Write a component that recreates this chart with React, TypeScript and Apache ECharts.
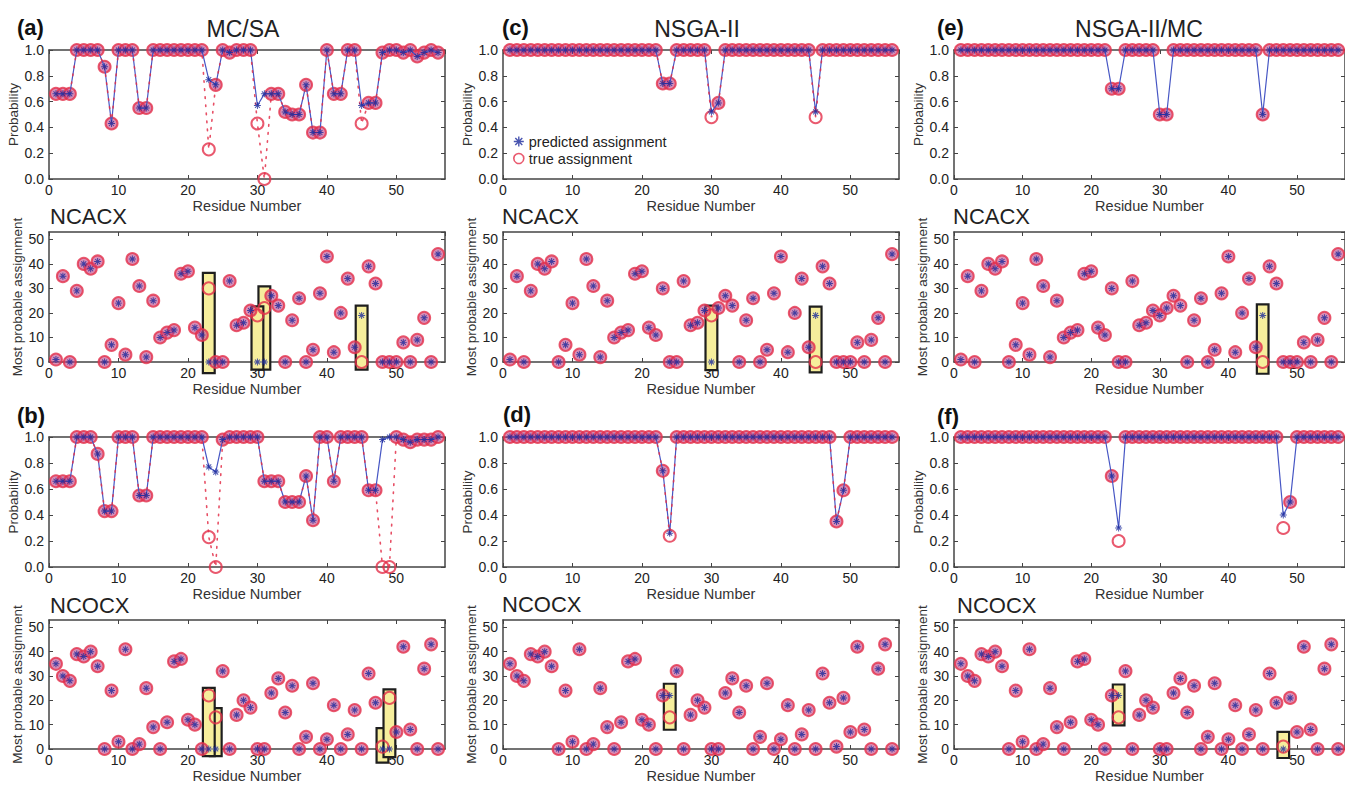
import React, { useEffect, useRef } from "react";
import * as echarts from "echarts";

const FONT = "'Liberation Sans', Arial, Helvetica, sans-serif";

// ---------------- data ----------------
const residues = [1,2,3,4,5,6,7,8,9,10,11,12,13,14,15,16,17,18,19,20,21,22,23,24,25,26,27,28,29,30,31,32,33,34,35,36,37,38,39,40,41,42,43,44,45,46,47,48,49,50,51,52,53,54,55,56];
const xTickStep = 10;
const probTickStep = 0.2;
const assignTickStep = 10;

const methodTitles = ["MC/SA", "NSGA-II", "NSGA-II/MC"];
const panelLetters = [["(a)", "(b)"], ["(c)", "(d)"], ["(e)", "(f)"]];
const spectrumNames = ["NCACX", "NCOCX"];
const legendNames = ["predicted assignment", "true assignment"];

// probability of assignment: MC/SA
const probMCSA_NCACX_pred = [0.66,0.66,0.66,1,1,1,1,0.87,0.43,1, 1,1,0.55,0.55,1,1,1,1,1,1, 1,1,0.77,0.73,1,0.98,1,1,1,0.57, 0.66,0.66,0.66,0.52,0.5,0.5,0.73,0.36,0.36,1, 0.66,0.66,1,1,0.57,0.59,0.59,0.98,1,1, 0.98,1,0.95,0.98,1,0.98];
const probMCSA_NCACX_true = [0.66,0.66,0.66,1,1,1,1,0.87,0.43,1, 1,1,0.55,0.55,1,1,1,1,1,1, 1,1,0.23,0.73,1,0.98,1,1,1,0.43, 0,0.66,0.66,0.52,0.5,0.5,0.73,0.36,0.36,1, 0.66,0.66,1,1,0.43,0.59,0.59,0.98,1,1, 0.98,1,0.95,0.98,1,0.98];
const probMCSA_NCOCX_pred = [0.66,0.66,0.66,1,1,1,0.87,0.43,0.43,1, 1,1,0.55,0.55,1,1,1,1,1,1, 1,1,0.77,0.73,0.98,1,1,1,1,1, 0.66,0.66,0.66,0.5,0.5,0.5,0.7,0.36,1,1, 0.66,1,1,1,1,0.59,0.59,0.98,1,1, 0.98,0.96,0.98,0.98,0.98,1];
const probMCSA_NCOCX_true = [0.66,0.66,0.66,1,1,1,0.87,0.43,0.43,1, 1,1,0.55,0.55,1,1,1,1,1,1, 1,1,0.23,0,0.98,1,1,1,1,1, 0.66,0.66,0.66,0.5,0.5,0.5,0.7,0.36,1,1, 0.66,1,1,1,1,0.59,0.59,0,0,1, 0.98,0.96,0.98,0.98,0.98,1];

// NSGA-II
const probNSGA_NCACX_pred = [1,1,1,1,1,1,1,1,1,1, 1,1,1,1,1,1,1,1,1,1, 1,1,0.74,0.74,1,1,1,1,1,0.52, 0.59,1,1,1,1,1,1,1,1,1, 1,1,1,1,0.52,1,1,1,1,1, 1,1,1,1,1,1];
const probNSGA_NCACX_true = [1,1,1,1,1,1,1,1,1,1, 1,1,1,1,1,1,1,1,1,1, 1,1,0.74,0.74,1,1,1,1,1,0.48, 0.59,1,1,1,1,1,1,1,1,1, 1,1,1,1,0.48,1,1,1,1,1, 1,1,1,1,1,1];
const probNSGA_NCOCX_pred = [1,1,1,1,1,1,1,1,1,1, 1,1,1,1,1,1,1,1,1,1, 1,1,0.74,0.26,1,1,1,1,1,1, 1,1,1,1,1,1,1,1,1,1, 1,1,1,1,1,1,1,0.35,0.59,1, 1,1,1,1,1,1];
const probNSGA_NCOCX_true = [1,1,1,1,1,1,1,1,1,1, 1,1,1,1,1,1,1,1,1,1, 1,1,0.74,0.24,1,1,1,1,1,1, 1,1,1,1,1,1,1,1,1,1, 1,1,1,1,1,1,1,0.35,0.59,1, 1,1,1,1,1,1];

// NSGA-II/MC
const probHyb_NCACX_pred = [1,1,1,1,1,1,1,1,1,1, 1,1,1,1,1,1,1,1,1,1, 1,1,0.7,0.7,1,1,1,1,1,0.5, 0.5,1,1,1,1,1,1,1,1,1, 1,1,1,1,0.5,1,1,1,1,1, 1,1,1,1,1,1];
const probHyb_NCACX_true = [1,1,1,1,1,1,1,1,1,1, 1,1,1,1,1,1,1,1,1,1, 1,1,0.7,0.7,1,1,1,1,1,0.5, 0.5,1,1,1,1,1,1,1,1,1, 1,1,1,1,0.5,1,1,1,1,1, 1,1,1,1,1,1];
const probHyb_NCOCX_pred = [1,1,1,1,1,1,1,1,1,1, 1,1,1,1,1,1,1,1,1,1, 1,1,0.7,0.3,1,1,1,1,1,1, 1,1,1,1,1,1,1,1,1,1, 1,1,1,1,1,1,1,0.4,0.5,1, 1,1,1,1,1,1];
const probHyb_NCOCX_true = [1,1,1,1,1,1,1,1,1,1, 1,1,1,1,1,1,1,1,1,1, 1,1,0.7,0.2,1,1,1,1,1,1, 1,1,1,1,1,1,1,1,1,1, 1,1,1,1,1,1,1,0.3,0.5,1, 1,1,1,1,1,1];

// most probable assignment
const ncacxTrue = [1,35,0,29,40,38,41,0,7,24, 3,42,31,2,25,10,12,13,36,37, 14,11,30,0,0,33,15,16,21,19, 22,27,23,0,17,26,0,5,28,43, 4,20,34,6,0,39,32,0,0,0, 8,0,9,18,0,44];
const ncacxPredMCSA = [1,35,0,29,40,38,41,0,7,24, 3,42,31,2,25,10,12,13,36,37, 14,11,0,0,0,33,15,16,21,0, 0,27,23,0,17,26,0,5,28,43, 4,20,34,6,19,39,32,0,0,0, 8,0,9,18,0,44];
const ncacxPredNSGA = [1,35,0,29,40,38,41,0,7,24, 3,42,31,2,25,10,12,13,36,37, 14,11,30,0,0,33,15,16,21,0, 22,27,23,0,17,26,0,5,28,43, 4,20,34,6,19,39,32,0,0,0, 8,0,9,18,0,44];
const ncacxPredHyb = [1,35,0,29,40,38,41,0,7,24, 3,42,31,2,25,10,12,13,36,37, 14,11,30,0,0,33,15,16,21,19, 22,27,23,0,17,26,0,5,28,43, 4,20,34,6,19,39,32,0,0,0, 8,0,9,18,0,44];

const ncocxTrue = [35,30,28,39,38,40,34,0,24,3, 41,0,2,25,9,0,11,36,37,12, 10,0,22,13,32,0,14,20,17,0, 0,23,29,15,26,0,5,27,0,4, 18,0,6,16,0,31,19,1,21,7, 42,8,0,33,43,0];
const ncocxPredMCSA = [35,30,28,39,38,40,34,0,24,3, 41,0,2,25,9,0,11,36,37,12, 10,0,0,0,32,0,14,20,17,0, 0,23,29,15,26,0,5,27,0,4, 18,0,6,16,0,31,19,0,0,7, 42,8,0,33,43,0];
const ncocxPredNSGA = [35,30,28,39,38,40,34,0,24,3, 41,0,2,25,9,0,11,36,37,12, 10,0,22,22,32,0,14,20,17,0, 0,23,29,15,26,0,5,27,0,4, 18,0,6,16,0,31,19,1,21,7, 42,8,0,33,43,0];
const ncocxPredHyb = [35,30,28,39,38,40,34,0,24,3, 41,0,2,25,9,0,11,36,37,12, 10,0,22,22,32,0,14,20,17,0, 0,23,29,15,26,0,5,27,0,4, 18,0,6,16,0,31,19,0,21,7, 42,8,0,33,43,0];

// highlighted mis-assignments: [residue, lower, upper]
const boxesMCSA_NCACX = [[23, -4.5, 36.3], [31, -3.1, 30.8], [30, -3.1, 22.7], [45, -3.1, 23]];
const boxesMCSA_NCOCX = [[24, -2.9, 16.8], [23, -2.9, 25.1], [48, -5.6, 8.6], [49, -3.3, 24.5]];
const boxesNSGA_NCACX = [[30, -3.3, 23], [45, -4.2, 22.6]];
const boxesNSGA_NCOCX = [[24, 7.9, 26.8]];
const boxesHyb_NCACX = [[45, -4.8, 23.5]];
const boxesHyb_NCOCX = [[24, 9.7, 26.5], [48, -3.7, 7]];

// ---------------- styling / layout ----------------
const RED = "#e3304a";
const PINK = "rgba(196,72,136,0.78)";
const BLUE_LINE = "#4656c4";
const BLUE_STAR = "#1b2a9c";
const AXIS = "#444";
const TXT = "#222";
const BOX_FILL = "#f6ee9c";
const BOX_HALF = 0.85;
const STAR = "path://M4.3,0L5.7,0L5.7,10L4.3,10Z M0,4.3L10,4.3L10,5.7L0,5.7Z M2,1L9,8L8,9L1,2Z M8,1L9,2L2,9L1,8Z";

const COL_LEFT = [49, 503, 954];
const GRID_W = 396;
const ROWS = [
  { top: 50, height: 129 },
  { top: 232, height: 130 },
  { top: 437, height: 130 },
  { top: 620, height: 129 },
];
const LETTER_POS = [[17, 27, 17, 415], [502, 27, 503, 414], [937, 27, 937, 416]];
const TITLE_POS = [[243, 28.5], [697, 28.5], [1139, 28.5]];
const SPEC_POS = [[50, 216.5, 50, 605], [502, 216.5, 502, 604.5], [953, 216, 957, 605]];

const methods = [
  {
    dotted: true,
    prob: [
      { pred: probMCSA_NCACX_pred, truth: probMCSA_NCACX_true },
      { pred: probMCSA_NCOCX_pred, truth: probMCSA_NCOCX_true },
    ],
    assign: [
      { pred: ncacxPredMCSA, truth: ncacxTrue },
      { pred: ncocxPredMCSA, truth: ncocxTrue },
    ],
    boxes: [boxesMCSA_NCACX, boxesMCSA_NCOCX],
  },
  {
    dotted: true,
    prob: [
      { pred: probNSGA_NCACX_pred, truth: probNSGA_NCACX_true },
      { pred: probNSGA_NCOCX_pred, truth: probNSGA_NCOCX_true },
    ],
    assign: [
      { pred: ncacxPredNSGA, truth: ncacxTrue },
      { pred: ncocxPredNSGA, truth: ncocxTrue },
    ],
    boxes: [boxesNSGA_NCACX, boxesNSGA_NCOCX],
  },
  {
    dotted: false,
    prob: [
      { pred: probHyb_NCACX_pred, truth: probHyb_NCACX_true },
      { pred: probHyb_NCOCX_pred, truth: probHyb_NCOCX_true },
    ],
    assign: [
      { pred: ncacxPredHyb, truth: ncacxTrue },
      { pred: ncocxPredHyb, truth: ncocxTrue },
    ],
    boxes: [boxesHyb_NCACX, boxesHyb_NCOCX],
  },
];

function buildOption() {
  const grid: any[] = [];
  const xAxis: any[] = [];
  const yAxis: any[] = [];
  const series: any[] = [];
  const graphic: any[] = [];

  const lineStyle = { color: AXIS, width: 1.5 };
  const tick = { show: true, inside: true, length: 4, lineStyle: { color: AXIS, width: 1 } };

  methods.forEach((m, c) => {
    for (let r = 0; r < 4; r++) {
      const g = grid.length;
      const isProb = r % 2 === 0;
      const spec = r < 2 ? 0 : 1;
      grid.push({ left: COL_LEFT[c], top: ROWS[r].top, width: GRID_W, height: ROWS[r].height });
      const xBase = {
        gridIndex: g, type: "value", min: 0, max: 57, interval: xTickStep,
        splitLine: { show: false }, axisLine: { show: true, onZero: false, lineStyle }, axisTick: tick,
      };
      xAxis.push({
        ...xBase, position: "bottom",
        axisLabel: { show: true, showMaxLabel: false, fontSize: 14, color: TXT, fontFamily: FONT, margin: 4 },
        name: "Residue Number", nameLocation: "middle", nameGap: 19,
        nameTextStyle: { fontSize: 14.5, color: "#333", fontFamily: FONT },
      });
      xAxis.push({ ...xBase, position: "top", axisLabel: { show: false } });
      const yBase = isProb
        ? { min: 0, max: 1, interval: probTickStep }
        : { min: 0, max: 53, interval: assignTickStep };
      const yCommon = {
        gridIndex: g, type: "value", ...yBase,
        splitLine: { show: false }, axisLine: { show: true, onZero: false, lineStyle }, axisTick: tick,
      };
      yAxis.push({
        ...yCommon, position: "left",
        axisLabel: {
          show: true, fontSize: 14, color: TXT, fontFamily: FONT, margin: 5,
          formatter: isProb ? (v: number) => v.toFixed(1) : (v: number) => String(v),
        },
        name: isProb ? "Probability" : "Most probable assignment",
        nameLocation: "middle", nameGap: 25,
        nameTextStyle: { fontSize: 13.5, color: "#333", fontFamily: FONT },
      });
      yAxis.push({ ...yCommon, position: "right", axisLabel: { show: false } });

      const xi = 2 * g;
      const yi = 2 * g;
      const pair = isProb ? m.prob[spec] : m.assign[spec];
      const { pred, truth } = pair;

      if (!isProb) {
        series.push({
          type: "custom", xAxisIndex: xi, yAxisIndex: yi, clip: false, silent: true, z: 1,
          data: m.boxes[spec],
          renderItem: (_p: any, api: any) => {
            const x = api.value(0), lo = api.value(1), hi = api.value(2);
            const p1 = api.coord([x - BOX_HALF, hi]);
            const p2 = api.coord([x + BOX_HALF, lo]);
            return {
              type: "rect",
              shape: { x: p1[0], y: p1[1], width: p2[0] - p1[0], height: p2[1] - p1[1] },
              style: { fill: BOX_FILL, stroke: "#1e1e1e", lineWidth: 2.2 },
            };
          },
        });
      }

      series.push({
        type: "scatter", name: legendNames[1], xAxisIndex: xi, yAxisIndex: yi,
        symbol: "circle", symbolSize: 12, clip: false, silent: true, z: 2,
        itemStyle: { color: "rgba(255,255,255,0)", borderColor: RED, borderWidth: 2 },
        data: residues.map((x, i) => ({
          value: [x, truth[i]],
          itemStyle: truth[i] === pred[i] ? { color: PINK } : undefined,
        })),
      });

      if (isProb) {
        series.push({
          type: "line", xAxisIndex: xi, yAxisIndex: yi, symbol: "none", clip: false, silent: true, z: 3,
          lineStyle: { color: BLUE_LINE, width: 1.2 },
          data: residues.map((x, i) => [x, pred[i]]),
        });
        if (m.dotted) {
          series.push({
            type: "line", xAxisIndex: xi, yAxisIndex: yi, symbol: "none", clip: false, silent: true, z: 4,
            lineStyle: { color: RED, width: 1.6, type: [1.6, 6.5], cap: "round", opacity: 0.85 },
            data: residues.map((x, i) => [x, truth[i]]),
          });
        }
      }

      series.push({
        type: "scatter", name: legendNames[0], xAxisIndex: xi, yAxisIndex: yi,
        symbol: STAR, symbolSize: 7, clip: false, silent: true, z: 5,
        itemStyle: { color: BLUE_STAR },
        data: residues.map((x, i) => [x, pred[i]]),
      });
    }

    // panel letters, method titles, spectrum names
    graphic.push({
      type: "text", x: LETTER_POS[c][0], y: LETTER_POS[c][1],
      style: { text: panelLetters[c][0], font: `bold 22px ${FONT}`, fill: "#111", textVerticalAlign: "middle" },
    });
    graphic.push({
      type: "text", x: LETTER_POS[c][2], y: LETTER_POS[c][3],
      style: { text: panelLetters[c][1], font: `bold 22px ${FONT}`, fill: "#111", textVerticalAlign: "middle" },
    });
    graphic.push({
      type: "text", x: TITLE_POS[c][0], y: TITLE_POS[c][1],
      style: { text: methodTitles[c], font: `23px ${FONT}`, fill: "#222", textAlign: "center", textVerticalAlign: "middle" },
    });
    graphic.push({
      type: "text", x: SPEC_POS[c][0], y: SPEC_POS[c][1],
      style: { text: spectrumNames[0], font: `22px ${FONT}`, fill: "#222", textVerticalAlign: "middle" },
    });
    graphic.push({
      type: "text", x: SPEC_POS[c][2], y: SPEC_POS[c][3],
      style: { text: spectrumNames[1], font: `22px ${FONT}`, fill: "#222", textVerticalAlign: "middle" },
    });
  });

  return {
    animation: false,
    backgroundColor: "#fff",
    textStyle: { fontFamily: FONT },
    grid,
    xAxis,
    yAxis,
    series,
    graphic,
    legend: {
      left: 508, top: 129, orient: "vertical", itemGap: 2, itemWidth: 10, itemHeight: 10,
      selectedMode: false,
      textStyle: { fontSize: 14.5, color: "#222", fontFamily: FONT },
      data: [
        { name: legendNames[0], icon: STAR, itemStyle: { color: BLUE_STAR } },
        { name: legendNames[1], icon: "circle", itemStyle: { color: "rgba(255,255,255,0)", borderColor: RED, borderWidth: 1.6 } },
      ],
    },
  };
}

export default function App() {
  const ref = useRef<HTMLDivElement>(null);
  useEffect(() => {
    if (!ref.current) return;
    const chart = echarts.init(ref.current, null, { renderer: "svg" });
    chart.setOption(buildOption() as any);
    return () => chart.dispose();
  }, []);
  return (
    <div
      ref={ref}
      style={{ position: "fixed", left: 0, top: 0, width: 1345, height: 789, background: "#fff" }}
    />
  );
}
